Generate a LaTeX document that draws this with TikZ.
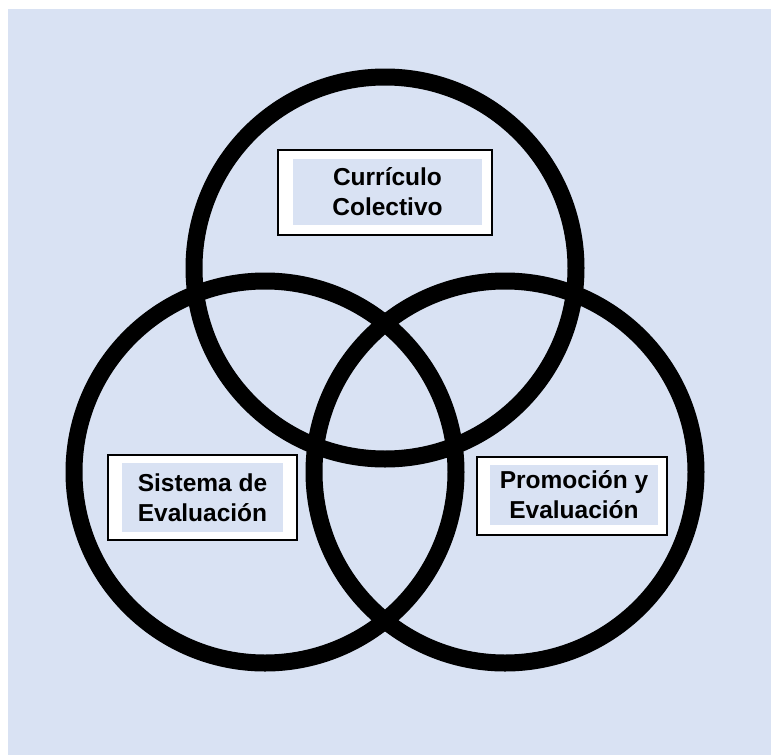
\documentclass[tikz,border=0pt]{standalone}
\usepackage{fontspec}
\setmainfont{Liberation Sans}
\usetikzlibrary{positioning}
\definecolor{fondo}{RGB}{217,226,243}
\tikzset{
  anillo/.style={draw=black, line width=17pt},
  marco/.style={draw=black, line width=1.6pt, fill=white, inner sep=0pt},
  etiqueta/.style={fill=fondo, align=center, inner sep=0pt,
    font=\fontsize{24.5}{30}\selectfont\bfseries}
}

\begin{document}
\begin{tikzpicture}[x=1pt, y=-1pt]
        \useasboundingbox (0,0) rectangle (771,755);
        % Fondo
        \fill[white] (0,0) rectangle (771,755);
        \fill[fondo] (8,9) rectangle (771,755);

        % Tres anillos
        \foreach \x/\y in {385/268, 265/472, 505/472}
        {
        \draw[anillo] (\x,\y) circle (191pt);
        }

        % Recuadros con los textos
        \node[marco, minimum width=214pt, minimum height=85pt] (marcoCur) at (385,192.5) {};
        \node[etiqueta, minimum width=189pt, minimum height=66pt] (cur) at (387.5,192) {Currículo\\Colectivo};

        \node[marco, minimum width=189pt, minimum height=85pt] (marcoSis) at (202.5,497.5) {};
        \node[etiqueta, minimum width=161pt, minimum height=69pt] (sis) at (202.5,497.5) {Sistema de\\Evaluación};

        \node[marco, minimum width=190pt, minimum height=78pt] (marcoPro) at (572,496) {};
        \node[etiqueta, minimum width=168pt, minimum height=60pt] (pro) at (574,495) {Promoción y\\Evaluación};
    \end{tikzpicture}
\end{document}
